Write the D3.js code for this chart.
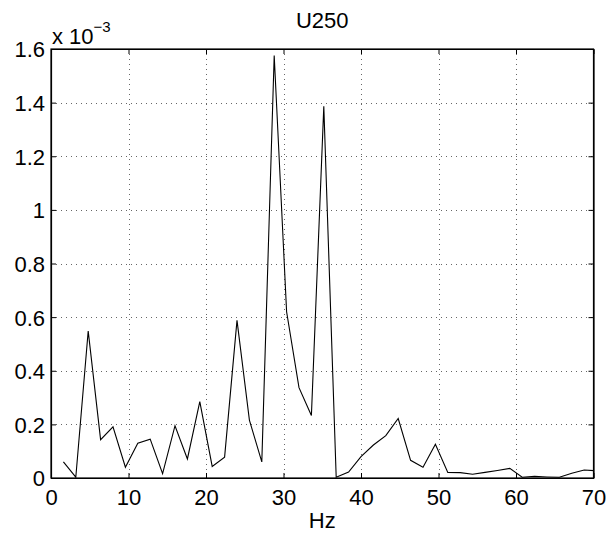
<!DOCTYPE html>
<html>
<head>
<meta charset="utf-8">
<script src="https://cdn.jsdelivr.net/npm/d3@7"></script>
<style>
  body { margin: 0; background: #fff; }
  svg { display: block; font-family: "Liberation Sans", Arial, sans-serif; }
</style>
</head>
<body>
<div id="chart"></div>
<script>
// Spectrum of U250 (values in units of 1e-3)
const hz = [1.6, 3.2, 4.8, 6.4, 8.0, 9.6, 11.2, 12.8, 14.4, 16.0, 17.6, 19.2, 20.8, 22.4,
  24.0, 25.6, 27.2, 28.8, 30.4, 32.0, 33.6, 35.2, 36.8, 38.4, 40.0, 41.6, 43.2, 44.8,
  46.4, 48.0, 49.6, 51.2, 52.8, 54.4, 56.0, 57.6, 59.2, 60.8, 62.4, 64.0, 65.6, 67.2,
  68.8, 70.4];
const amp = [0.060, 0.003, 0.548, 0.143, 0.191, 0.040, 0.130, 0.145, 0.016, 0.195, 0.071,
  0.285, 0.043, 0.078, 0.588, 0.216, 0.060, 1.576, 0.620, 0.337, 0.233, 1.386, 0.003,
  0.022, 0.080, 0.123, 0.158, 0.222, 0.066, 0.040, 0.126, 0.021, 0.020, 0.014, 0.021,
  0.028, 0.036, 0.003, 0.006, 0.004, 0.003, 0.018, 0.030, 0.027];
const xTicks = [0, 10, 20, 30, 40, 50, 60, 70];
const yTicks = [0, 0.2, 0.4, 0.6, 0.8, 1, 1.2, 1.4, 1.6];

const width = 611, height = 535;
const margin = { top: 49, right: 17.5, bottom: 57, left: 51 };
const w = width - margin.left - margin.right;
const h = height - margin.top - margin.bottom;
const fontSize = "22px";

const svg = d3.select("#chart").append("svg")
  .attr("width", width)
  .attr("height", height);

const g = svg.append("g")
  .attr("transform", `translate(${margin.left},${margin.top})`);

const x = d3.scaleLinear().domain([0, 70]).range([0, w]);
const y = d3.scaleLinear().domain([0, 1.6]).range([h, 0]);

// dotted grid
g.append("g")
  .selectAll("line.vgrid")
  .data(xTicks.slice(1, -1))
  .join("line")
  .attr("class", "vgrid")
  .attr("x1", d => Math.round(x(d)) + 0.5)
  .attr("x2", d => Math.round(x(d)) + 0.5)
  .attr("y1", 0)
  .attr("y2", h)
  .attr("stroke", "#000")
  .attr("stroke-width", 0.6)
  .attr("stroke-dasharray", "1,4");

g.append("g")
  .selectAll("line.hgrid")
  .data(yTicks.slice(1, -1))
  .join("line")
  .attr("class", "hgrid")
  .attr("x1", 0)
  .attr("x2", w)
  .attr("y1", d => Math.round(y(d)) + 0.5)
  .attr("y2", d => Math.round(y(d)) + 0.5)
  .attr("stroke", "#000")
  .attr("stroke-width", 0.6)
  .attr("stroke-dasharray", "1,4");

// data line
svg.append("defs").append("clipPath")
  .attr("id", "clip")
  .append("rect")
  .attr("width", w)
  .attr("height", h);

const line = d3.line()
  .x((d, i) => x(hz[i]))
  .y(d => y(d));

g.append("path")
  .datum(amp)
  .attr("clip-path", "url(#clip)")
  .attr("fill", "none")
  .attr("stroke", "#000")
  .attr("stroke-width", 1.1)
  .attr("d", line);

// axes, MATLAB style: ticks pointing in, box all round
const tickLen = 5;
const xAxis = g.append("g")
  .attr("transform", `translate(0,${h})`)
  .call(d3.axisBottom(x).tickValues(xTicks).tickSize(-tickLen).tickSizeOuter(0));
const yAxis = g.append("g")
  .call(d3.axisLeft(y).tickValues(yTicks).tickSize(-tickLen).tickSizeOuter(0)
    .tickFormat(d => d3.format("~g")(d)));
g.append("g")
  .call(d3.axisTop(x).tickValues(xTicks).tickSize(-tickLen).tickFormat("").tickSizeOuter(0));
g.append("g")
  .attr("transform", `translate(${w},0)`)
  .call(d3.axisRight(y).tickValues(yTicks).tickSize(-tickLen).tickFormat("").tickSizeOuter(0));

g.selectAll(".domain").attr("stroke", "#000").attr("stroke-width", 1.2);
g.selectAll(".tick line").attr("stroke", "#000");
g.selectAll(".tick text")
  .attr("fill", "#000")
  .style("font-size", fontSize)
  .style("font-family", "'Liberation Sans', Arial, sans-serif");
xAxis.selectAll(".tick text").attr("y", 27).attr("dy", null);
yAxis.selectAll(".tick text").attr("x", -6).attr("dy", "0.36em");

g.append("rect")
  .attr("width", w)
  .attr("height", h)
  .attr("fill", "none")
  .attr("stroke", "#000")
  .attr("stroke-width", 1.2);

// exponent label
const expo = svg.append("text")
  .attr("x", margin.left + 1)
  .attr("y", 44)
  .style("font-size", fontSize);
expo.append("tspan").text("x 10");
expo.append("tspan")
  .attr("dy", -12)
  .style("font-size", "15px")
  .text("\u22123");

// title and x label
svg.append("text")
  .attr("x", margin.left + w / 2)
  .attr("y", 28)
  .attr("text-anchor", "middle")
  .style("font-size", fontSize)
  .text("U250");

svg.append("text")
  .attr("x", margin.left + w / 2)
  .attr("y", 528)
  .attr("text-anchor", "middle")
  .style("font-size", fontSize)
  .text("Hz");
</script>
</body>
</html>
